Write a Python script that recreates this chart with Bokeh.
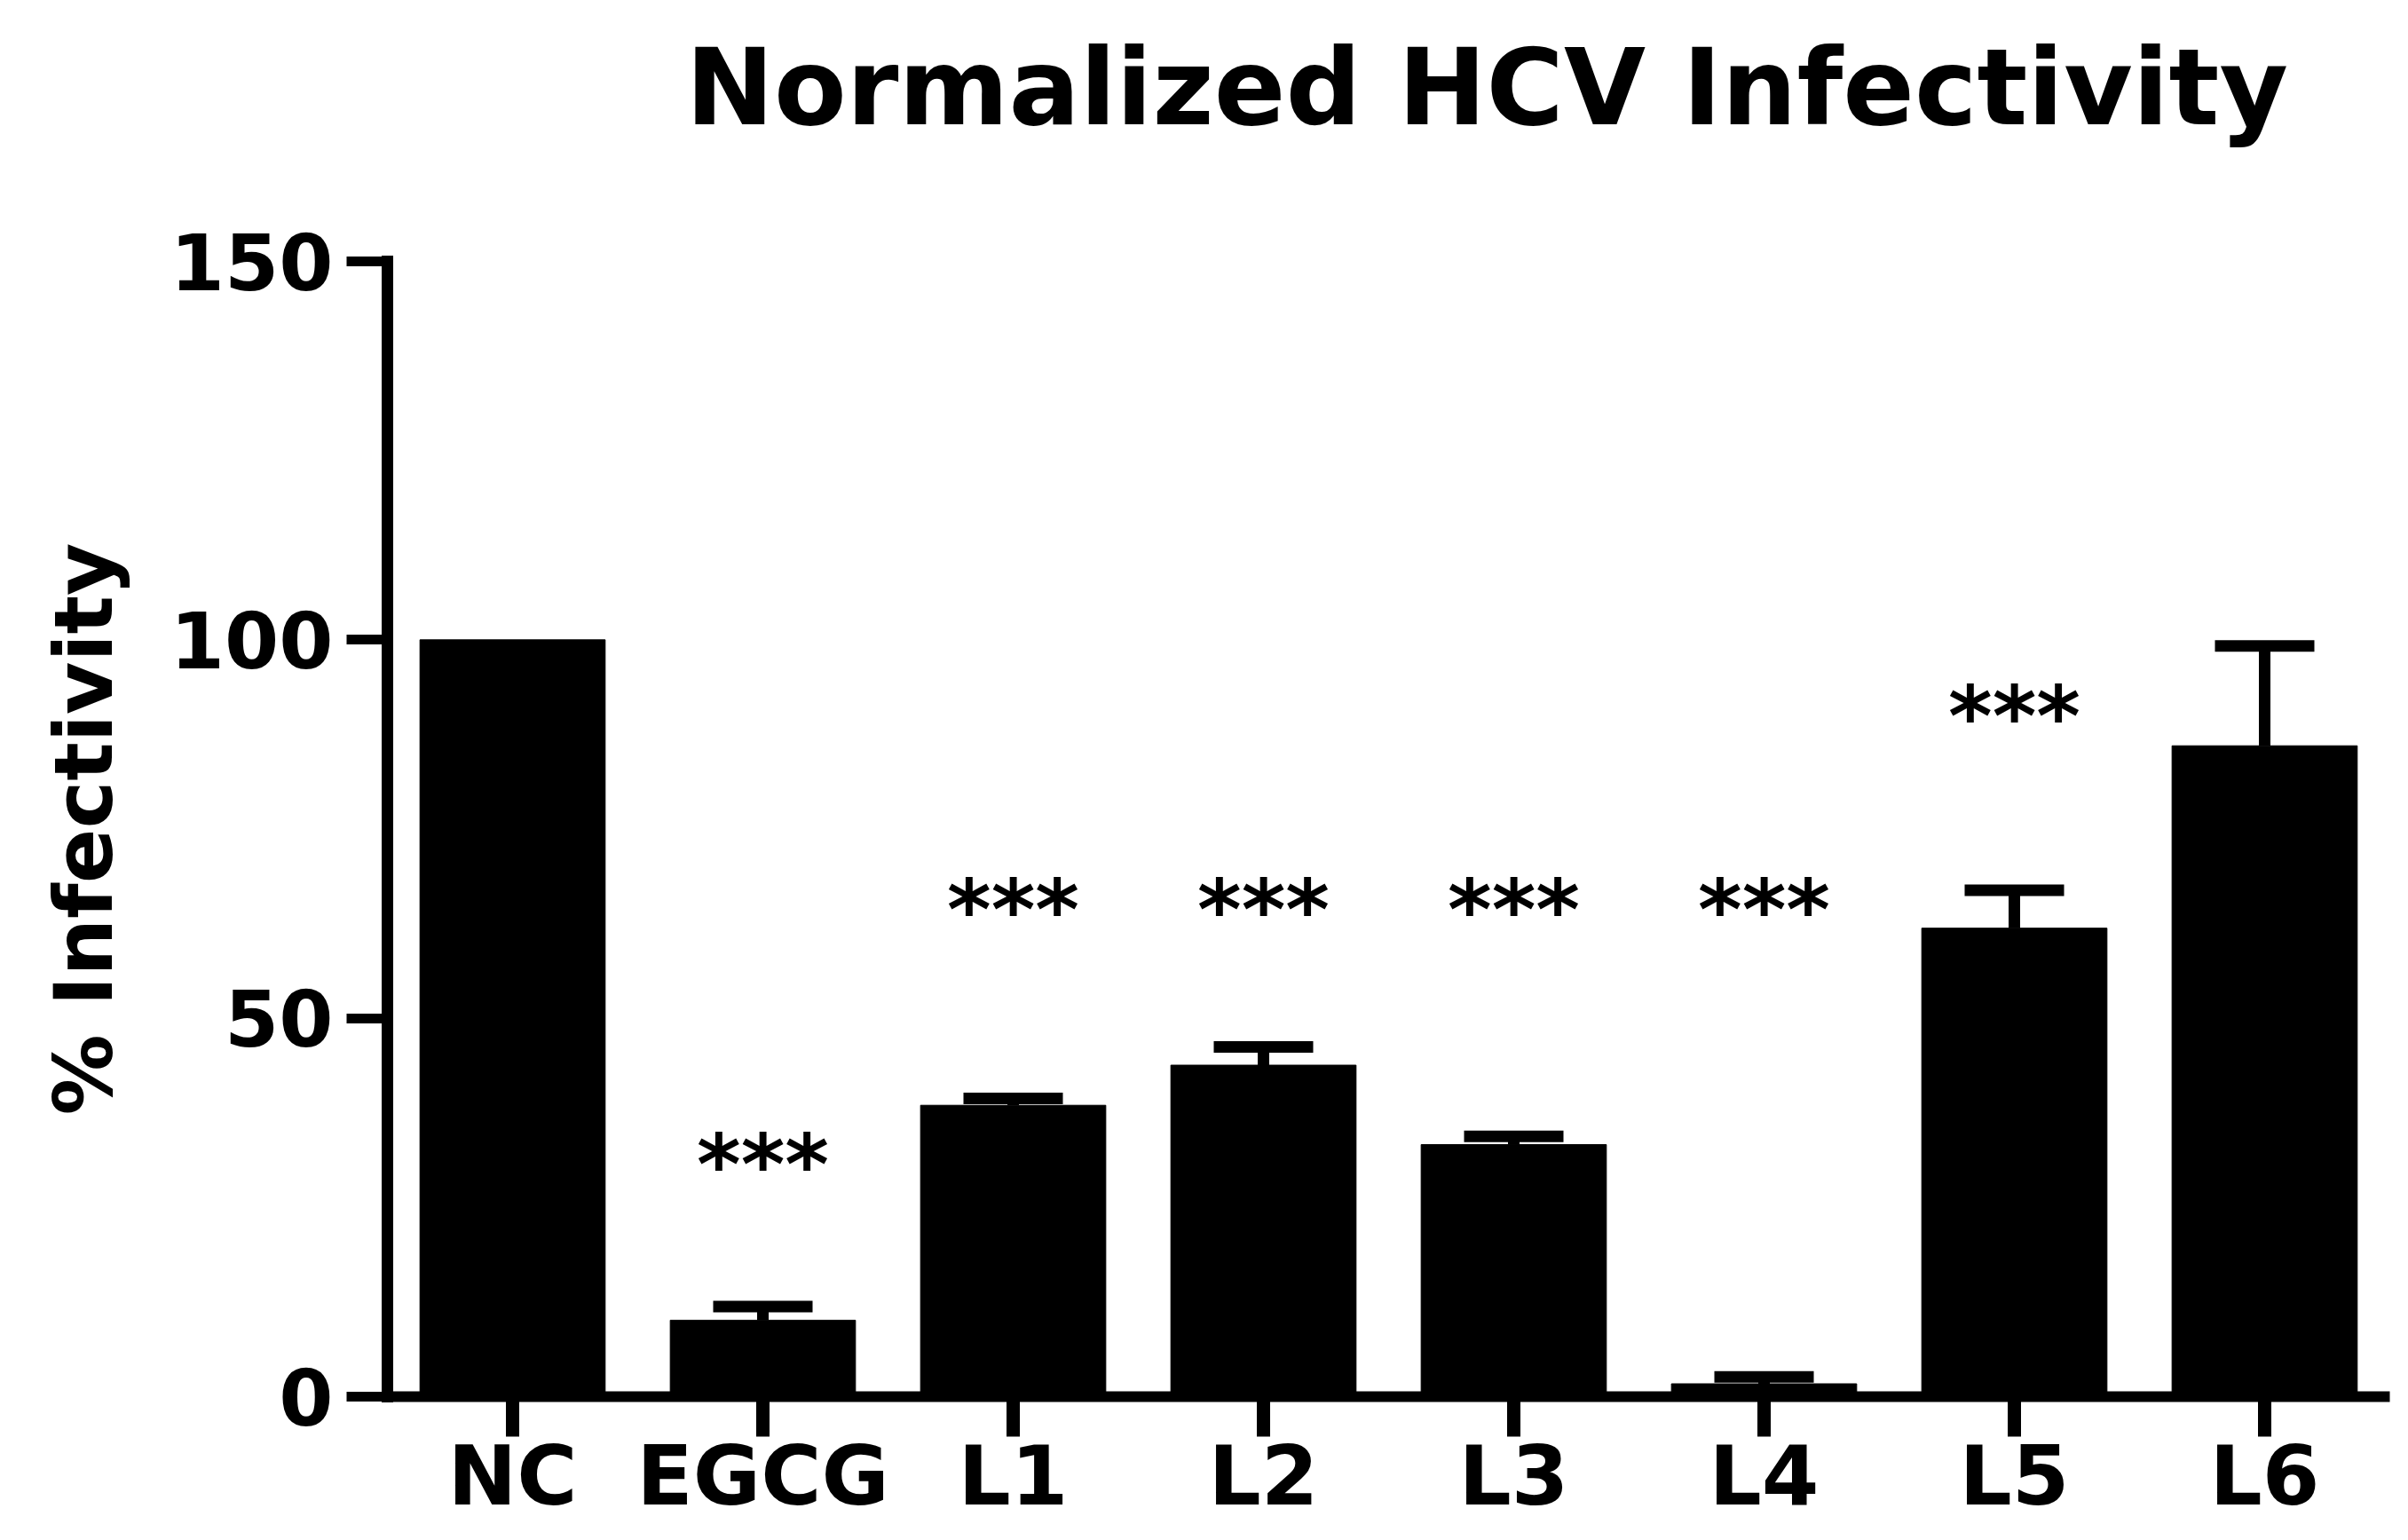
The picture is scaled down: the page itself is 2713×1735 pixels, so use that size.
from bokeh.plotting import figure
from bokeh.models import ColumnDataSource, FactorRange, Range1d, Whisker, TeeHead, FixedTicker, Title
from bokeh.core.properties import value
from bokeh.embed import file_html
from bokeh.resources import INLINE

# ---- data ----
categories = ["NC", "EGCG", "L1", "L2", "L3", "L4", "L5", "L6"]
means = [100.0, 10.1, 38.5, 43.8, 33.3, 1.7, 61.9, 86.0]
sems = [0.0, 1.8, 0.9, 2.4, 1.1, 0.9, 5.0, 13.2]
sig_groups = ["EGCG", "L1", "L2", "L3", "L4", "L5"]
sig_levels = [32.9, 66.6, 66.6, 66.6, 66.6, 92.1]
sig_marks = ["***"] * len(sig_groups)
y_ticks = [0, 50, 100, 150]
title_text = "Normalized HCV Infectivity"
y_label = "% Infectivity"

FONT = "DejaVu Sans"

W, H = 2697, 1719
p = figure(
    x_range=FactorRange(*categories, range_padding=0),
    y_range=Range1d(0, 150),
    width=W, height=H,
    output_backend="svg", toolbar_location=None,
    min_border_left=436, min_border_right=5,
    min_border_top=294, min_border_bottom=143,
    background_fill_color="white", border_fill_color="white",
)
p.outline_line_color = None
p.xgrid.visible = False
p.ygrid.visible = False

bars = ColumnDataSource(dict(x=categories, top=means))
p.vbar(x="x", top="top", bottom=0, width=0.74, source=bars,
       fill_color="black", line_color="black", line_width=1)

err_x = [c for c, s in zip(categories, sems) if s > 0]
err_lo = [m for m, s in zip(means, sems) if s > 0]
err_hi = [m + s for m, s in zip(means, sems) if s > 0]
errs = ColumnDataSource(dict(x=err_x, lower=err_lo, upper=err_hi))
wh = Whisker(source=errs, base="x", lower="lower", upper="upper", dimension="height",
             line_width=13, line_color="black",
             upper_head=TeeHead(size=112, line_width=13, line_color="black"),
             lower_head=None, level="overlay")
p.add_layout(wh)

stars = ColumnDataSource(dict(x=sig_groups, y=sig_levels, t=sig_marks))
p.text(x="x", y="y", text="t", source=stars, text_align="center", text_baseline="middle",
       text_font=value(FONT), text_font_style="bold", text_font_size="95px",
       text_color="black", y_offset=19)

# title: a blank spacer panel next to the frame, then the title on top of it
p.title = None
spacer = Title(text=" ", text_font_size="10px", standoff=87)
p.add_layout(spacer, "above")
main_title = Title(text=title_text, align="left", offset=336, vertical_align="top",
                   standoff=50, text_font=FONT, text_font_style="bold",
                   text_font_size="119px", text_color="black")
p.add_layout(main_title, "above")

# x axis
xa = p.xaxis[0]
xa.axis_line_width = 12
xa.axis_line_color = "black"
xa.major_tick_out = 45
xa.major_tick_in = 0
xa.major_tick_line_width = 15
xa.major_tick_line_color = "black"
xa.major_label_standoff = -10
xa.major_label_text_font = FONT
xa.major_label_text_font_style = "bold"
xa.major_label_text_font_size = "93px"
xa.major_label_text_color = "black"

# y axis
ya = p.yaxis[0]
ya.ticker = FixedTicker(ticks=y_ticks)
ya.minor_tick_line_color = None
ya.axis_line_width = 13
ya.axis_line_cap = "square"
ya.axis_line_color = "black"
ya.major_tick_out = 46
ya.major_tick_in = 0
ya.major_tick_line_width = 11
ya.major_tick_line_color = "black"
ya.major_label_standoff = 15
ya.major_label_text_font = FONT
ya.major_label_text_font_style = "bold"
ya.major_label_text_font_size = "88px"
ya.major_label_text_color = "black"
ya.axis_label = y_label
ya.axis_label_text_font = FONT
ya.axis_label_text_font_style = "bold"
ya.axis_label_text_font_size = "91px"
ya.axis_label_text_color = "black"
ya.axis_label_standoff = 42

open("out.html", "w").write(file_html(p, INLINE))
